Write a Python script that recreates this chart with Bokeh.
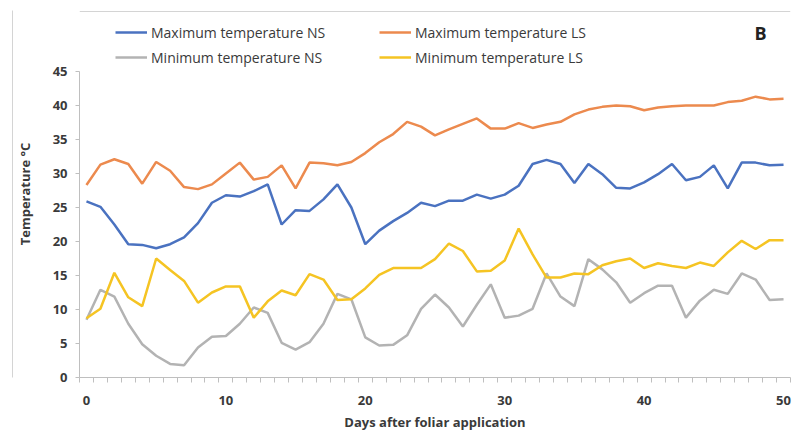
from bokeh.plotting import figure
from bokeh.models import (Range1d, FixedTicker, Legend, LegendItem, Label,
                          Span, LinearAxis, ColumnDataSource)
from bokeh.embed import file_html
from bokeh.resources import INLINE

days = list(range(51))

max_ns = [25.9, 25.1, 22.5, 19.6, 19.5, 19.0, 19.6, 20.6, 22.7, 25.7,
          26.8, 26.6, 27.4, 28.4, 22.5, 24.6, 24.5, 26.2, 28.4, 25.0,
          19.6, 21.6, 23.0, 24.2, 25.7, 25.2, 26.0, 26.0, 26.9, 26.3,
          26.9, 28.2, 31.4, 32.0, 31.4, 28.6, 31.4, 29.9, 27.9, 27.8,
          28.7, 29.9, 31.4, 29.0, 29.5, 31.2, 27.8, 31.6, 31.6, 31.2, 31.3]

max_ls = [28.3, 31.3, 32.1, 31.4, 28.5, 31.7, 30.4, 28.0, 27.7, 28.4,
          30.0, 31.6, 29.1, 29.5, 31.2, 27.8, 31.6, 31.5, 31.2, 31.7,
          33.0, 34.6, 35.8, 37.6, 36.9, 35.6, 36.5, 37.3, 38.1, 36.6,
          36.6, 37.4, 36.7, 37.2, 37.6, 38.7, 39.4, 39.8, 40.0, 39.9,
          39.3, 39.7, 39.9, 40.0, 40.0, 40.0, 40.5, 40.7, 41.3, 40.9, 41.0]

min_ns = [8.5, 12.9, 11.9, 7.9, 4.9, 3.2, 2.0, 1.8, 4.4, 6.0,
          6.1, 7.9, 10.3, 9.5, 5.1, 4.1, 5.2, 7.9, 12.3, 11.5,
          5.9, 4.7, 4.8, 6.2, 10.1, 12.2, 10.3, 7.5, 10.7, 13.7,
          8.8, 9.1, 10.1, 15.3, 11.9, 10.5, 17.4, 15.9, 14.0, 11.0,
          12.4, 13.5, 13.5, 8.8, 11.3, 12.9, 12.3, 15.3, 14.4, 11.4, 11.5]

min_ls = [8.7, 10.1, 15.4, 11.8, 10.5, 17.5, 15.8, 14.2, 11.0, 12.5,
          13.4, 13.4, 8.8, 11.2, 12.8, 12.1, 15.2, 14.4, 11.4, 11.5,
          13.1, 15.1, 16.1, 16.1, 16.1, 17.4, 19.7, 18.6, 15.6, 15.7,
          17.2, 21.9, 18.1, 14.7, 14.7, 15.3, 15.2, 16.5, 17.1, 17.5,
          16.1, 16.8, 16.4, 16.1, 16.9, 16.4, 18.4, 20.1, 18.9, 20.2, 20.2]

series_names = ["Maximum temperature NS", "Maximum temperature LS",
                "Minimum temperature NS", "Minimum temperature LS"]
colors = ["#4a72c0", "#ec8a4e", "#b3b3b3", "#f5c423"]

x_ticks = [0, 10, 20, 30, 40, 50]
y_ticks = [0, 5, 10, 15, 20, 25, 30, 35, 40, 45]

Y_TOP = 53.97  # headroom above 45 for legend and panel label

p = figure(width=792, height=438, output_backend="svg", toolbar_location=None,
           x_range=Range1d(-0.5, 50.5), y_range=Range1d(0, Y_TOP),
           min_border_left=79, min_border_right=2, min_border_top=10,
           min_border_bottom=61)
p.outline_line_color = None
p.xgrid.visible = False
p.ygrid.visible = False
p.background_fill_color = "white"
p.border_fill_color = "white"

src = ColumnDataSource(dict(day=days, max_ns=max_ns, max_ls=max_ls,
                            min_ns=min_ns, min_ls=min_ls))
keys = ["max_ns", "max_ls", "min_ns", "min_ls"]
renderers = {}
for k, c in zip(keys, colors):
    renderers[k] = p.line("day", k, source=src, line_color=c, line_width=2.5)

axis_col = "#bfbfbf"
border_col = "#d4d4d4"
text_col = "#3a3a3a"
font = "Open Sans"

xa = p.xaxis[0]
xa.ticker = FixedTicker(ticks=x_ticks,
                        minor_ticks=[d - 0.5 for d in days] + [50.5])
xa.axis_line_color = axis_col
xa.major_tick_out = 0
xa.major_tick_in = 0
xa.minor_tick_out = 5
xa.minor_tick_in = 0
xa.minor_tick_line_color = axis_col
xa.major_label_standoff = 13
xa.major_label_text_font = font
xa.major_label_text_font_style = "bold"
xa.major_label_text_font_size = "13px"
xa.major_label_text_color = text_col
xa.axis_label = "Days after foliar application"
xa.axis_label_text_font = font
xa.axis_label_text_font_style = "bold"
xa.axis_label_text_font_size = "13px"
xa.axis_label_text_color = text_col
xa.axis_label_standoff = 5

ya = p.yaxis[0]
ya.ticker = FixedTicker(ticks=y_ticks)
ya.bounds = (0, 45)
ya.axis_line_color = axis_col
ya.major_tick_out = 4
ya.major_tick_in = 0
ya.major_tick_line_color = axis_col
ya.minor_tick_line_color = None
ya.major_label_standoff = 8
ya.major_label_text_font = font
ya.major_label_text_font_style = "bold"
ya.major_label_text_font_size = "13px"
ya.major_label_text_color = text_col
ya.axis_label = "Temperature °C"
ya.axis_label_text_font = font
ya.axis_label_text_font_style = "bold"
ya.axis_label_text_font_size = "13px"
ya.axis_label_text_color = text_col
ya.axis_label_standoff = 16

# outer left axis used only as the chart-area border line
border_axis = LinearAxis(ticker=FixedTicker(ticks=[]), axis_line_color=border_col,
                         major_tick_line_color=None, minor_tick_line_color=None,
                         major_label_text_font_size="0px")
p.add_layout(border_axis, "left")

# top border of the chart area
p.add_layout(Span(location=Y_TOP - 0.15, dimension="width",
                  line_color=border_col, line_width=1))


def make_legend(pairs, loc):
    items = [LegendItem(label=n, renderers=[renderers[k]]) for n, k in pairs]
    leg = Legend(items=items, location=loc, orientation="vertical",
                 glyph_width=32, glyph_height=20, label_height=20,
                 label_standoff=4, spacing=5, padding=0, margin=0,
                 border_line_color=None, background_fill_alpha=0,
                 label_text_font=font, label_text_font_size="14px",
                 label_text_color=text_col)
    return leg


leg1 = make_legend([(series_names[0], "max_ns"), (series_names[2], "min_ns")],
                   (36, 310))
leg2 = make_legend([(series_names[1], "max_ls"), (series_names[3], "min_ls")],
                   (300, 310))
p.add_layout(leg1, "center")
p.add_layout(leg2, "center")

p.add_layout(Label(x=48.35, y=50.6, text="B", text_font=font,
                   text_font_size="18px", text_font_style="bold",
                   text_color="#222222", text_align="center",
                   text_baseline="middle"))

open("out.html", "w").write(file_html(p, INLINE))
